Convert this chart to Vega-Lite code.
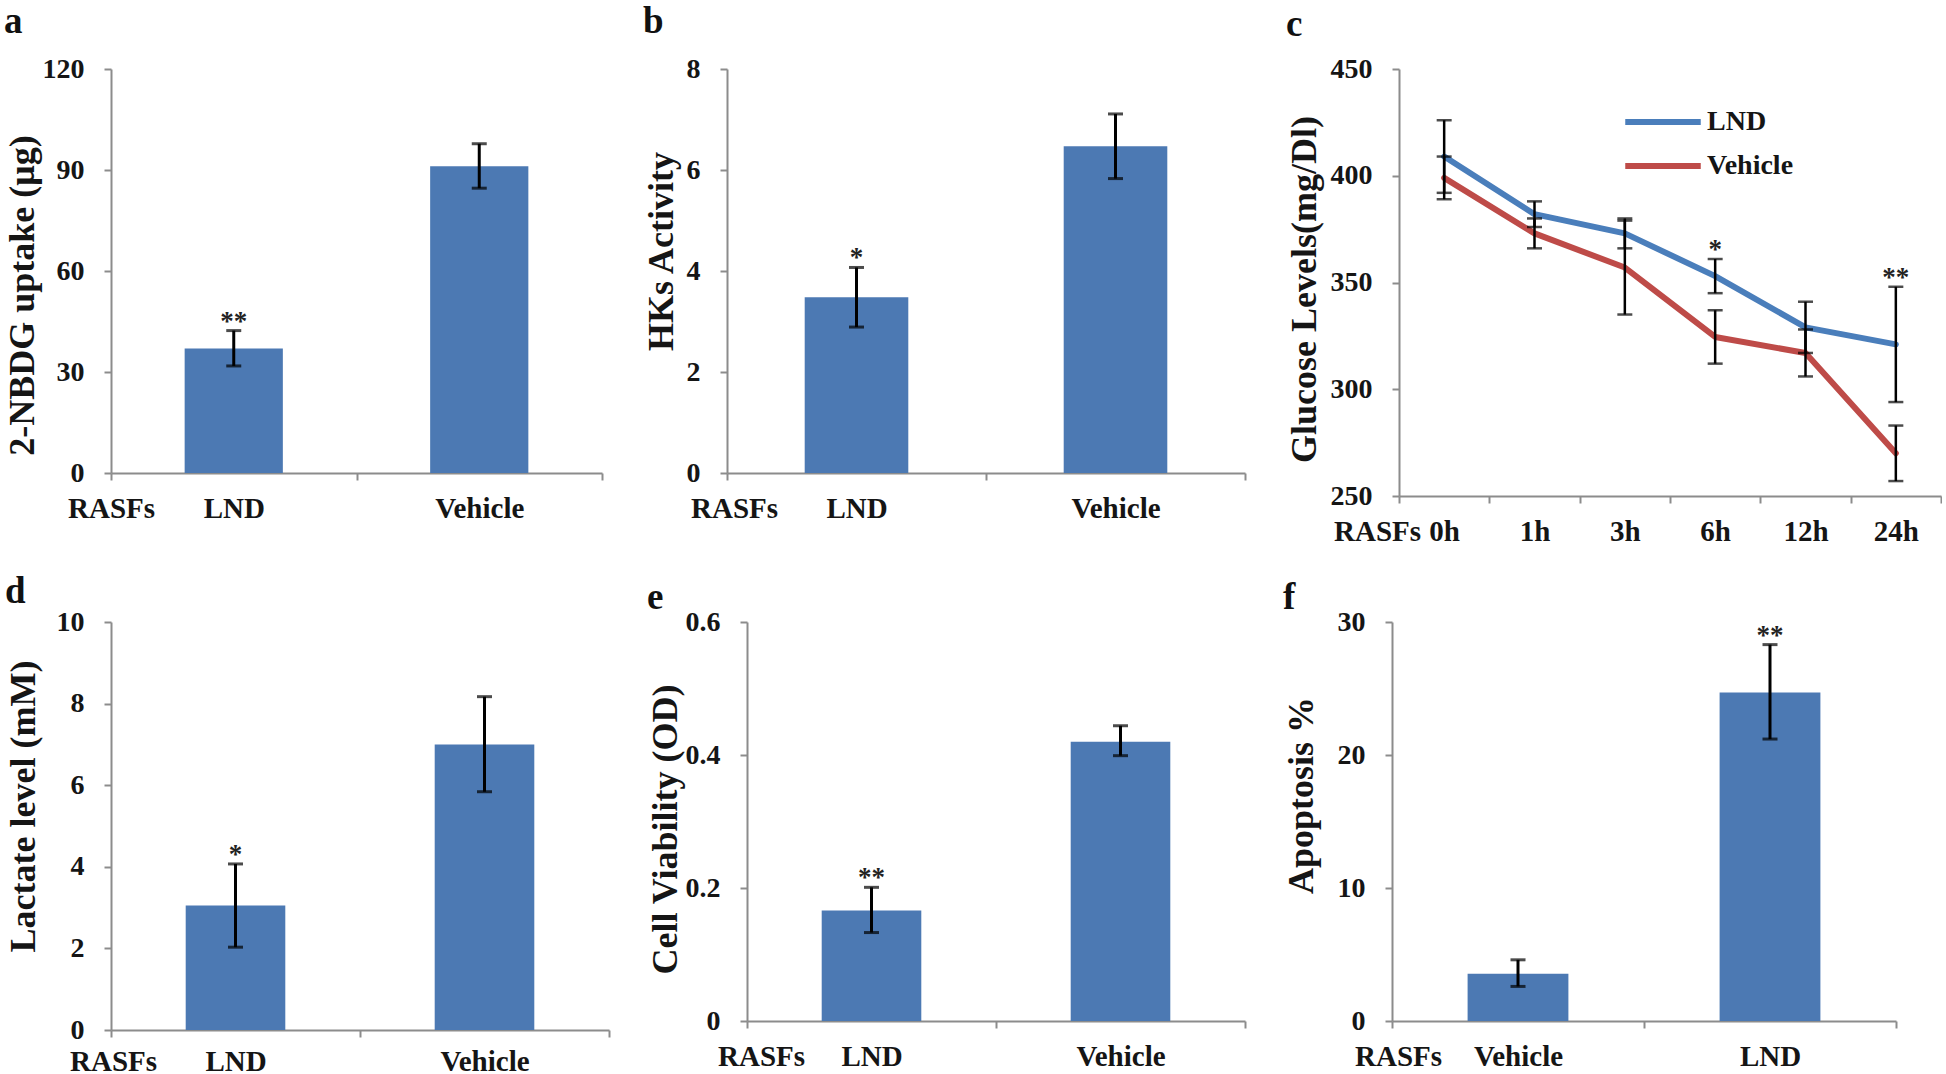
{
  "$schema": "https://vega.github.io/schema/vega-lite/v6.json",
  "padding": {"left": 4, "top": 3, "right": 0, "bottom": 0},
  "background": "white",
  "config": {
    "view": {"stroke": null},
    "font": "Liberation Serif",
    "axis": {
      "labelFont": "Liberation Serif", "labelFontWeight": "bold", "labelFontSize": 28, "labelColor": "#151515",
      "titleFont": "Liberation Serif", "titleFontWeight": "bold", "titleFontSize": 36, "titleColor": "#151515",
      "domainColor": "#8c8c8c", "domainWidth": 2, "tickColor": "#8c8c8c", "tickWidth": 2, "tickSize": 7, "grid": false
    },
    "axisX": {"labelFontSize": 29, "titleFontSize": 29},
    "title": {"font": "Liberation Serif", "fontWeight": "bold", "fontSize": 37, "anchor": "start", "frame": "bounds", "color": "#111111"}
  },
  "vconcat": [
    {
      "hconcat": [
        {
          "width": 491, "height": 404,
          "title": {"text": "a", "offset": 14},
          "data": {"values": [
            {"group": "LND", "value": 37.0, "lo": 31.8, "hi": 42.3, "sig": "**"},
            {"group": "Vehicle", "value": 91.1, "lo": 84.6, "hi": 97.8, "sig": ""}
          ]},
          "encoding": {"x": {"field": "group", "type": "nominal", "sort": ["LND", "Vehicle"], "scale": {"type": "band", "paddingInner": 0, "paddingOuter": 0},
            "axis": {"title": "RASFs", "titleAnchor": "start", "titleAlign": "center", "titleBaseline": "top", "titleX": 0, "titleY": 21, "labelAngle": 0, "labelPadding": 14, "tickBand": "extent"}}},
          "layer": [
            {"mark": {"type": "bar", "color": "#4C79B3", "width": {"band": 0.4}},
             "encoding": {"y": {"field": "value", "type": "quantitative", "title": "2-NBDG uptake (μg)", "scale": {"domain": [0, 120], "nice": false},
               "axis": {"values": [0, 30, 60, 90, 120], "labelPadding": 20, "minExtent": 66, "maxExtent": 66, "titlePadding": 4, "titleY": 226}}}},
            {"mark": {"type": "rule", "strokeWidth": 3, "color": "black"}, "encoding": {"y": {"field": "lo", "type": "quantitative", "title": "2-NBDG uptake (μg)"}, "y2": {"field": "hi"}}},
            {"mark": {"type": "tick", "thickness": 3, "size": 15, "color": "black"}, "encoding": {"y": {"field": "lo", "type": "quantitative", "title": "2-NBDG uptake (μg)"}}},
            {"mark": {"type": "tick", "thickness": 3, "size": 15, "color": "black"}, "encoding": {"y": {"field": "hi", "type": "quantitative", "title": "2-NBDG uptake (μg)"}}},
            {"mark": {"type": "text", "baseline": "alphabetic", "dy": -1, "fontSize": 27, "fontWeight": "bold", "font": "Liberation Serif", "color": "#222222"},
             "encoding": {"y": {"field": "hi", "type": "quantitative", "title": "2-NBDG uptake (μg)"}, "text": {"field": "sig"}}}
          ]
        },
        {
          "width": 518, "height": 404,
          "title": {"text": "b", "offset": 14},
          "data": {"values": [
            {"group": "LND", "value": 3.48, "lo": 2.89, "hi": 4.07, "sig": "*"},
            {"group": "Vehicle", "value": 6.47, "lo": 5.83, "hi": 7.11, "sig": ""}
          ]},
          "encoding": {"x": {"field": "group", "type": "nominal", "sort": ["LND", "Vehicle"], "scale": {"type": "band", "paddingInner": 0, "paddingOuter": 0},
            "axis": {"title": "RASFs", "titleAnchor": "start", "titleAlign": "center", "titleBaseline": "top", "titleX": 7, "titleY": 21, "labelAngle": 0, "labelPadding": 14, "tickBand": "extent"}}},
          "layer": [
            {"mark": {"type": "bar", "color": "#4C79B3", "width": {"band": 0.4}},
             "encoding": {"y": {"field": "value", "type": "quantitative", "title": "HKs Activity", "scale": {"domain": [0, 8], "nice": false},
               "axis": {"values": [0, 2, 4, 6, 8], "labelPadding": 20, "minExtent": 41, "maxExtent": 41, "titlePadding": 6, "titleY": 182}}}},
            {"mark": {"type": "rule", "strokeWidth": 3, "color": "black"}, "encoding": {"y": {"field": "lo", "type": "quantitative", "title": "HKs Activity"}, "y2": {"field": "hi"}}},
            {"mark": {"type": "tick", "thickness": 3, "size": 15, "color": "black"}, "encoding": {"y": {"field": "lo", "type": "quantitative", "title": "HKs Activity"}}},
            {"mark": {"type": "tick", "thickness": 3, "size": 15, "color": "black"}, "encoding": {"y": {"field": "hi", "type": "quantitative", "title": "HKs Activity"}}},
            {"mark": {"type": "text", "baseline": "alphabetic", "dy": -1, "fontSize": 27, "fontWeight": "bold", "font": "Liberation Serif", "color": "#222222"},
             "encoding": {"y": {"field": "hi", "type": "quantitative", "title": "HKs Activity"}, "text": {"field": "sig"}}}
          ]
        },
        {
          "width": 542, "height": 427,
          "title": {"text": "c", "offset": 11},
          "data": {"values": [
            {"time": "0h", "series": "LND", "value": 409, "lo": 392, "hi": 426, "sig": ""},
            {"time": "1h", "series": "LND", "value": 382, "lo": 376, "hi": 388, "sig": ""},
            {"time": "3h", "series": "LND", "value": 373, "lo": 366, "hi": 380, "sig": ""},
            {"time": "6h", "series": "LND", "value": 353, "lo": 345, "hi": 361, "sig": "*"},
            {"time": "12h", "series": "LND", "value": 329, "lo": 317, "hi": 341, "sig": ""},
            {"time": "24h", "series": "LND", "value": 321, "lo": 294, "hi": 348, "sig": "**"},
            {"time": "0h", "series": "Vehicle", "value": 399, "lo": 389, "hi": 409, "sig": ""},
            {"time": "1h", "series": "Vehicle", "value": 373, "lo": 366, "hi": 380, "sig": ""},
            {"time": "3h", "series": "Vehicle", "value": 357, "lo": 335, "hi": 379, "sig": ""},
            {"time": "6h", "series": "Vehicle", "value": 324.5, "lo": 312, "hi": 337, "sig": ""},
            {"time": "12h", "series": "Vehicle", "value": 317, "lo": 306, "hi": 328, "sig": ""},
            {"time": "24h", "series": "Vehicle", "value": 270, "lo": 257, "hi": 283, "sig": ""}
          ]},
          "encoding": {"x": {"field": "time", "type": "nominal", "sort": ["0h", "1h", "3h", "6h", "12h", "24h"], "bandPosition": 0.5, "scale": {"type": "band", "paddingInner": 0, "paddingOuter": 0},
            "axis": {"title": "RASFs", "titleAnchor": "start", "titleAlign": "center", "titleBaseline": "top", "titleX": -22, "titleY": 21, "labelAngle": 0, "labelPadding": 14, "tickBand": "extent"}}},
          "layer": [
            {"mark": {"type": "line", "strokeWidth": 6, "strokeJoin": "round", "strokeCap": "round"},
             "encoding": {
               "y": {"field": "value", "type": "quantitative", "title": "Glucose Levels(mg/Dl)", "scale": {"domain": [250, 450], "nice": false, "zero": false},
                 "axis": {"values": [250, 300, 350, 400, 450], "labelPadding": 20, "minExtent": 68, "maxExtent": 68, "titlePadding": 8, "titleY": 220}},
               "color": {"field": "series", "type": "nominal", "scale": {"domain": ["LND", "Vehicle"], "range": ["#4A7EBB", "#BE4B48"]},
                 "legend": {"orient": "none", "legendX": 1511, "legendY": 31, "title": null, "symbolType": "stroke", "symbolStrokeWidth": 6, "symbolSize": 5700, "labelFontSize": 28, "labelFont": "Liberation Serif", "labelFontWeight": "bold", "labelColor": "#151515", "clipHeight": 44, "rowPadding": 0, "labelOffset": 3}}
             }},
            {"mark": {"type": "rule", "strokeWidth": 2.5, "color": "black"}, "encoding": {"y": {"field": "lo", "type": "quantitative", "title": "Glucose Levels(mg/Dl)"}, "y2": {"field": "hi"}}},
            {"mark": {"type": "tick", "thickness": 2.5, "size": 15, "color": "black"}, "encoding": {"y": {"field": "lo", "type": "quantitative", "title": "Glucose Levels(mg/Dl)"}}},
            {"mark": {"type": "tick", "thickness": 2.5, "size": 15, "color": "black"}, "encoding": {"y": {"field": "hi", "type": "quantitative", "title": "Glucose Levels(mg/Dl)"}}},
            {"mark": {"type": "text", "baseline": "alphabetic", "dy": -1, "fontSize": 27, "fontWeight": "bold", "font": "Liberation Serif", "color": "#222222"},
             "encoding": {"y": {"field": "hi", "type": "quantitative", "title": "Glucose Levels(mg/Dl)"}, "text": {"field": "sig"}}}
          ]
        }
      ],
      "spacing": 40,
      "align": "none"
    },
    {
      "hconcat": [
        {
          "width": 498, "height": 408,
          "title": {"text": "d", "offset": -3},
          "data": {"values": [
            {"group": "LND", "value": 3.05, "lo": 2.03, "hi": 4.07, "sig": "*"},
            {"group": "Vehicle", "value": 7.0, "lo": 5.84, "hi": 8.17, "sig": ""}
          ]},
          "encoding": {"x": {"field": "group", "type": "nominal", "sort": ["LND", "Vehicle"], "scale": {"type": "band", "paddingInner": 0, "paddingOuter": 0},
            "axis": {"title": "RASFs", "titleAnchor": "start", "titleAlign": "center", "titleBaseline": "top", "titleX": 2, "titleY": 17, "labelAngle": 0, "labelPadding": 10, "tickBand": "extent"}}},
          "layer": [
            {"mark": {"type": "bar", "color": "#4C79B3", "width": {"band": 0.4}},
             "encoding": {"y": {"field": "value", "type": "quantitative", "title": "Lactate level (mM)", "scale": {"domain": [0, 10], "nice": false},
               "axis": {"values": [0, 2, 4, 6, 8, 10], "labelPadding": 20, "minExtent": 44, "maxExtent": 44, "titlePadding": 25, "titleY": 184}}}},
            {"mark": {"type": "rule", "strokeWidth": 3, "color": "black"}, "encoding": {"y": {"field": "lo", "type": "quantitative", "title": "Lactate level (mM)"}, "y2": {"field": "hi"}}},
            {"mark": {"type": "tick", "thickness": 3, "size": 15, "color": "black"}, "encoding": {"y": {"field": "lo", "type": "quantitative", "title": "Lactate level (mM)"}}},
            {"mark": {"type": "tick", "thickness": 3, "size": 15, "color": "black"}, "encoding": {"y": {"field": "hi", "type": "quantitative", "title": "Lactate level (mM)"}}},
            {"mark": {"type": "text", "baseline": "alphabetic", "dy": -1, "fontSize": 27, "fontWeight": "bold", "font": "Liberation Serif", "color": "#222222"},
             "encoding": {"y": {"field": "hi", "type": "quantitative", "title": "Lactate level (mM)"}, "text": {"field": "sig"}}}
          ]
        },
        {
          "width": 498, "height": 399,
          "title": {"text": "e", "offset": -9},
          "data": {"values": [
            {"group": "LND", "value": 0.166, "lo": 0.133, "hi": 0.201, "sig": "**"},
            {"group": "Vehicle", "value": 0.42, "lo": 0.399, "hi": 0.444, "sig": ""}
          ]},
          "encoding": {"x": {"field": "group", "type": "nominal", "sort": ["LND", "Vehicle"], "scale": {"type": "band", "paddingInner": 0, "paddingOuter": 0},
            "axis": {"title": "RASFs", "titleAnchor": "start", "titleAlign": "center", "titleBaseline": "top", "titleX": 14, "titleY": 21, "labelAngle": 0, "labelPadding": 14, "tickBand": "extent"}}},
          "layer": [
            {"mark": {"type": "bar", "color": "#4C79B3", "width": {"band": 0.4}},
             "encoding": {"y": {"field": "value", "type": "quantitative", "title": "Cell Viability (OD)", "scale": {"domain": [0, 0.6], "nice": false},
               "axis": {"values": [0, 0.2, 0.4, 0.6], "format": ".1~f", "labelPadding": 20, "minExtent": 58, "maxExtent": 58, "titlePadding": 5, "titleY": 207}}}},
            {"mark": {"type": "rule", "strokeWidth": 3, "color": "black"}, "encoding": {"y": {"field": "lo", "type": "quantitative", "title": "Cell Viability (OD)"}, "y2": {"field": "hi"}}},
            {"mark": {"type": "tick", "thickness": 3, "size": 15, "color": "black"}, "encoding": {"y": {"field": "lo", "type": "quantitative", "title": "Cell Viability (OD)"}}},
            {"mark": {"type": "tick", "thickness": 3, "size": 15, "color": "black"}, "encoding": {"y": {"field": "hi", "type": "quantitative", "title": "Cell Viability (OD)"}}},
            {"mark": {"type": "text", "baseline": "alphabetic", "dy": -1, "fontSize": 27, "fontWeight": "bold", "font": "Liberation Serif", "color": "#222222"},
             "encoding": {"y": {"field": "hi", "type": "quantitative", "title": "Cell Viability (OD)"}, "text": {"field": "sig"}}}
          ]
        },
        {
          "width": 504, "height": 399,
          "title": {"text": "f", "offset": -9},
          "data": {"values": [
            {"group": "Vehicle", "value": 3.55, "lo": 2.6, "hi": 4.6, "sig": ""},
            {"group": "LND", "value": 24.7, "lo": 21.2, "hi": 28.3, "sig": "**"}
          ]},
          "encoding": {"x": {"field": "group", "type": "nominal", "sort": ["Vehicle", "LND"], "scale": {"type": "band", "paddingInner": 0, "paddingOuter": 0},
            "axis": {"title": "RASFs", "titleAnchor": "start", "titleAlign": "center", "titleBaseline": "top", "titleX": 6, "titleY": 21, "labelAngle": 0, "labelPadding": 14, "tickBand": "extent"}}},
          "layer": [
            {"mark": {"type": "bar", "color": "#4C79B3", "width": {"band": 0.4}},
             "encoding": {"y": {"field": "value", "type": "quantitative", "title": "Apoptosis %", "scale": {"domain": [0, 30], "nice": false},
               "axis": {"values": [0, 10, 20, 30], "labelPadding": 20, "minExtent": 56, "maxExtent": 56, "titlePadding": 16, "titleY": 173}}}},
            {"mark": {"type": "rule", "strokeWidth": 3, "color": "black"}, "encoding": {"y": {"field": "lo", "type": "quantitative", "title": "Apoptosis %"}, "y2": {"field": "hi"}}},
            {"mark": {"type": "tick", "thickness": 3, "size": 15, "color": "black"}, "encoding": {"y": {"field": "lo", "type": "quantitative", "title": "Apoptosis %"}}},
            {"mark": {"type": "tick", "thickness": 3, "size": 15, "color": "black"}, "encoding": {"y": {"field": "hi", "type": "quantitative", "title": "Apoptosis %"}}},
            {"mark": {"type": "text", "baseline": "alphabetic", "dy": -1, "fontSize": 27, "fontWeight": "bold", "font": "Liberation Serif", "color": "#222222"},
             "encoding": {"y": {"field": "hi", "type": "quantitative", "title": "Apoptosis %"}, "text": {"field": "sig"}}}
          ]
        }
      ],
      "spacing": 37,
      "align": "none"
    }
  ],
  "spacing": 27,
  "align": "none"
}
